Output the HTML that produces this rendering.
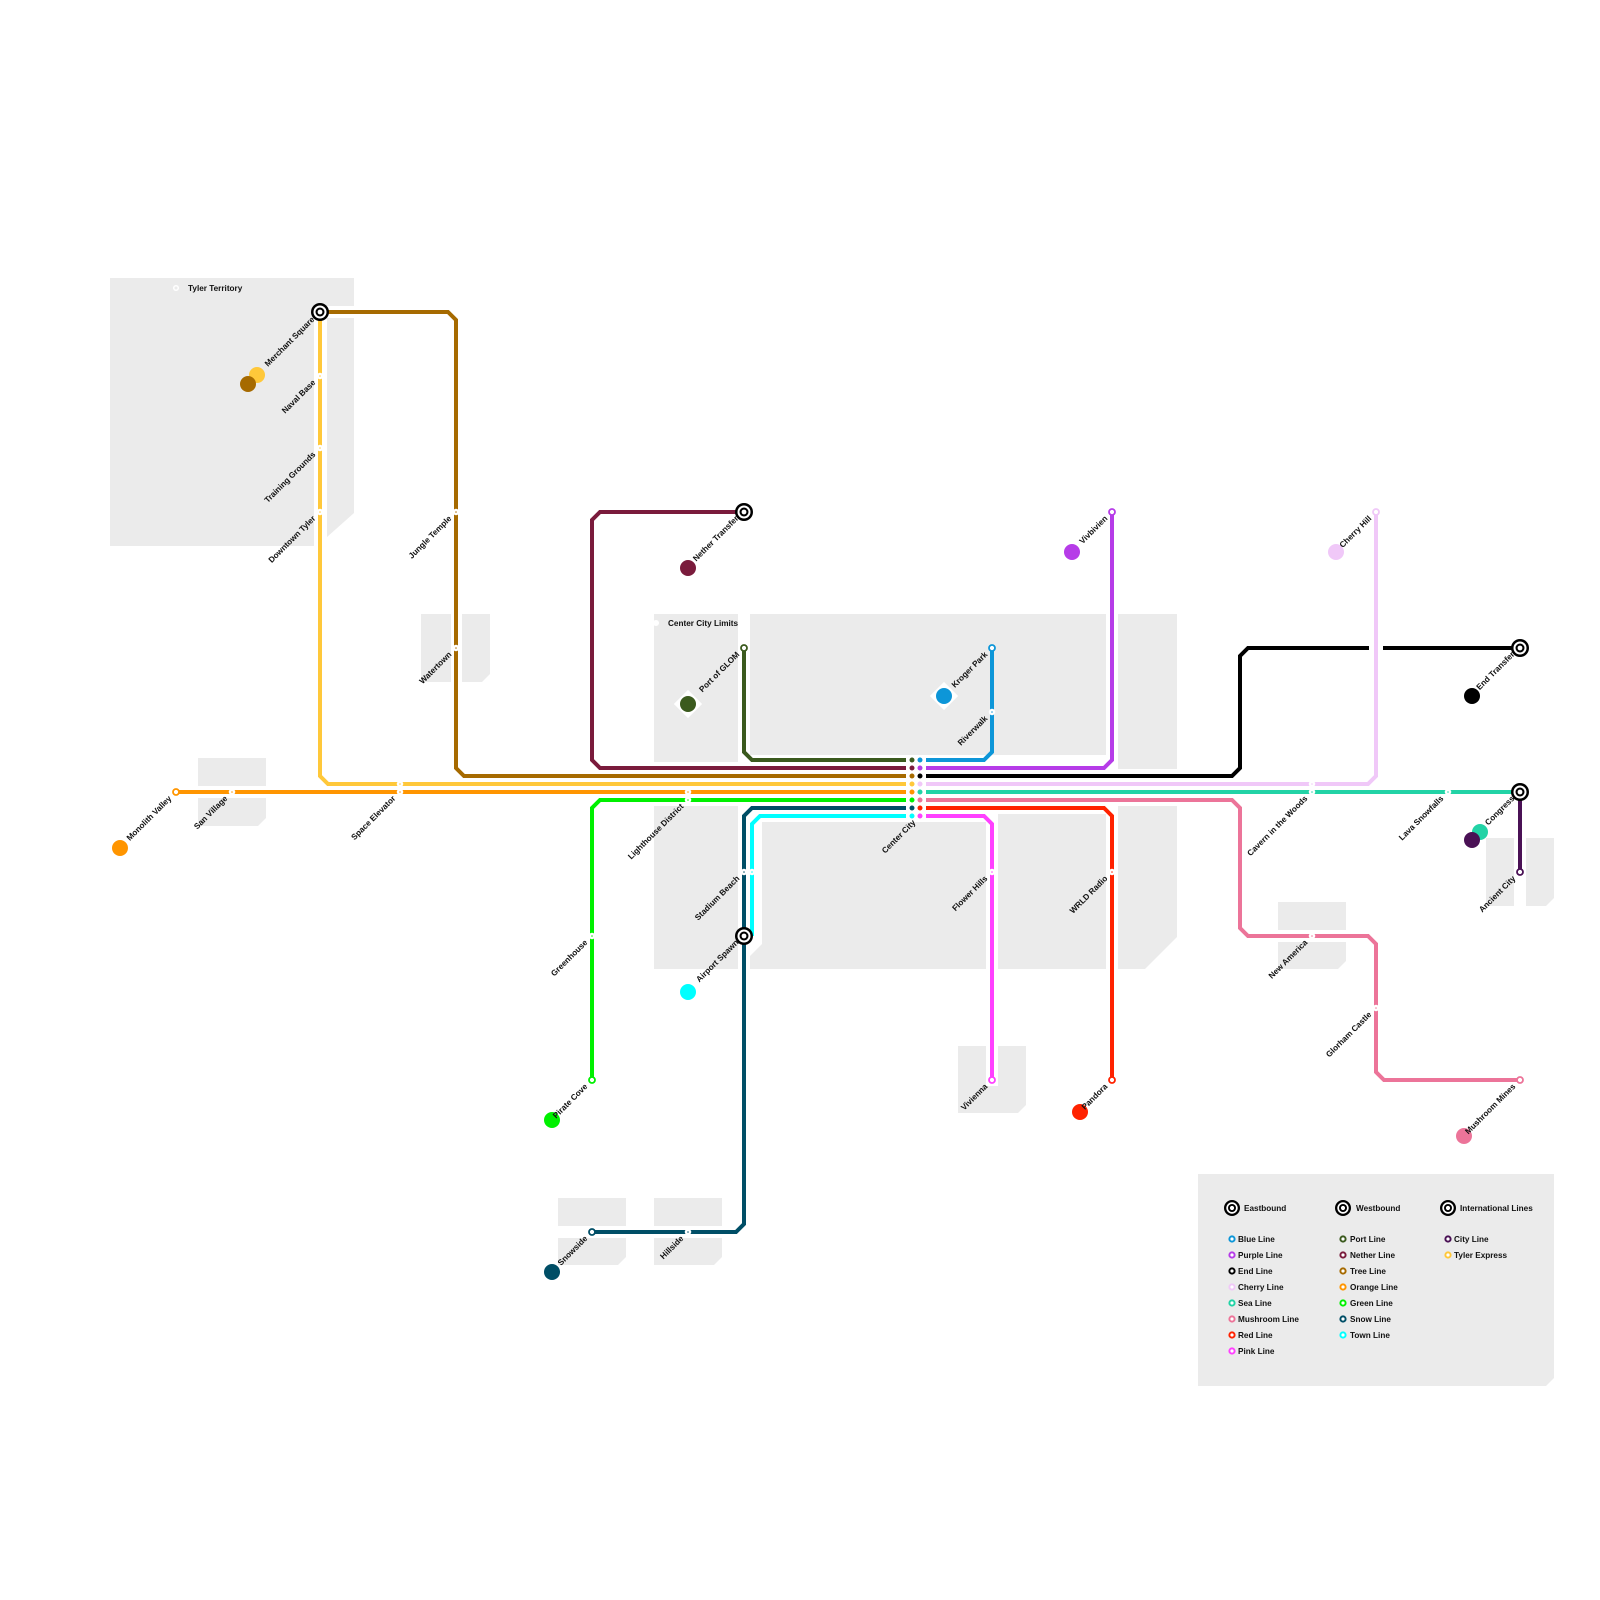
<!DOCTYPE html>
<html><head><meta charset="utf-8"><style>
html,body{margin:0;padding:0;background:#fff}
svg{display:block}
text{font-family:"Liberation Sans",Arial,sans-serif;font-weight:bold;font-size:8.2px;fill:#111}
</style></head><body>
<svg width="1600" height="1600" viewBox="0 0 1600 1600" xmlns="http://www.w3.org/2000/svg">
<g fill="#ebebeb">
<rect x="110" y="278" width="204" height="268"/>
<rect x="314" y="278" width="40" height="28"/>
<path d="M327 318H354V513L327 537Z"/>
<rect x="198" y="758" width="68" height="28"/>
<path d="M198 798H266V818L258 826H198Z"/>
<rect x="421" y="614" width="30" height="68"/>
<path d="M462 614H490V674L482 682H462Z"/>
<rect x="654" y="614" width="84" height="148"/>
<rect x="750" y="614" width="356" height="141"/>
<rect x="1118" y="614" width="59" height="155"/>
<rect x="654" y="806" width="84" height="163"/>
<path d="M762 822H986V969H750V956L762 944Z"/>
<rect x="998" y="814" width="108" height="155"/>
<path d="M1118 806H1177V937L1145 969H1118Z"/>
<rect x="958" y="1046" width="28" height="67"/>
<path d="M998 1046H1026V1105L1018 1113H998Z"/>
<rect x="958" y="1086" width="60" height="27"/>
<rect x="558" y="1198" width="68" height="28"/>
<path d="M558 1238H626V1257L618 1265H558Z"/>
<rect x="654" y="1198" width="68" height="28"/>
<path d="M654 1238H722V1257L714 1265H654Z"/>
<rect x="1278" y="902" width="68" height="28"/>
<path d="M1278 942H1346V961L1338 969H1278Z"/>
<rect x="1486" y="838" width="28" height="68"/>
<path d="M1526 838H1554V898L1546 906H1526Z"/>
<path d="M1198 1174H1554V1378L1546 1386H1198Z"/>
</g>

<g fill="none" stroke-width="4" stroke-linejoin="miter">
<path stroke="#A66A00" d="M320 312H448L456 320V768L464 776H906"/>
<path stroke="#FFC83A" d="M320 312V776L328 784H906"/>
<path stroke="#FF9500" d="M176 792H906"/>
<path stroke="#00F000" d="M906 800H600L592 808V1080"/>
<path stroke="#7A1B3C" d="M906 768H600L592 760V520L600 512H744"/>
<path stroke="#3B5A1E" d="M906 760H752L744 752V648"/>
<path stroke="#004E66" d="M906 808H752L744 816V1224L736 1232H592"/>
<path stroke="#00FFFF" d="M906 816H760L752 824V936"/>
<path stroke="#0D96D8" d="M926 760H984L992 752V648"/>
<path stroke="#B63CE8" d="M926 768H1104L1112 760V512"/>
<path stroke="#F0C8F8" d="M926 784H1368L1376 776V512"/>
<path stroke="#000" d="M926 776H1232L1240 768V656L1248 648H1369M1383 648H1520"/>
<path stroke="#22D3A6" d="M926 792H1520"/>
<path stroke="#EC7499" d="M926 800H1232L1240 808V928L1248 936H1368L1376 944V1072L1384 1080H1520"/>
<path stroke="#FF2200" d="M926 808H1104L1112 816V1080"/>
<path stroke="#FF40FF" d="M926 816H984L992 824V1080"/>
<path stroke="#4A1155" d="M1520 792V872"/>
</g>

<g>
<circle cx="912" cy="760" r="2.5" fill="#3B5A1E"/><circle cx="920" cy="760" r="2.5" fill="#0D96D8"/>
<circle cx="912" cy="768" r="2.5" fill="#7A1B3C"/><circle cx="920" cy="768" r="2.5" fill="#B63CE8"/>
<circle cx="912" cy="776" r="2.5" fill="#A66A00"/><circle cx="920" cy="776" r="2.5" fill="#000"/>
<circle cx="912" cy="784" r="2.5" fill="#FFC83A"/><circle cx="920" cy="784" r="2.5" fill="#F0C8F8"/>
<circle cx="912" cy="792" r="2.5" fill="#FF9500"/><circle cx="920" cy="792" r="2.5" fill="#22D3A6"/>
<circle cx="912" cy="800" r="2.5" fill="#00F000"/><circle cx="920" cy="800" r="2.5" fill="#EC7499"/>
<circle cx="912" cy="808" r="2.5" fill="#004E66"/><circle cx="920" cy="808" r="2.5" fill="#FF2200"/>
<circle cx="912" cy="816" r="2.5" fill="#00FFFF"/><circle cx="920" cy="816" r="2.5" fill="#FF40FF"/>
</g>

<g stroke="#fff" stroke-width="2.5">
<circle cx="320" cy="376" r="2" fill="#FFC83A"/>
<circle cx="320" cy="448" r="2" fill="#FFC83A"/>
<circle cx="320" cy="512" r="2" fill="#FFC83A"/>
<circle cx="456" cy="512" r="2" fill="#A66A00"/>
<circle cx="456" cy="648" r="2" fill="#A66A00"/>
<circle cx="232" cy="792" r="2" fill="#FF9500"/>
<circle cx="400" cy="784" r="2" fill="#FFC83A"/>
<circle cx="400" cy="792" r="2" fill="#FF9500"/>
<circle cx="688" cy="792" r="2" fill="#FF9500"/>
<circle cx="688" cy="800" r="2" fill="#00F000"/>
<circle cx="592" cy="936" r="2" fill="#00F000"/>
<circle cx="744" cy="872" r="2" fill="#004E66"/>
<circle cx="752" cy="872" r="2" fill="#00FFFF"/>
<circle cx="688" cy="1232" r="2" fill="#004E66"/>
<circle cx="992" cy="712" r="2" fill="#0D96D8"/>
<circle cx="992" cy="872" r="2" fill="#FF40FF"/>
<circle cx="1112" cy="872" r="2" fill="#FF2200"/>
<circle cx="1312" cy="784" r="2" fill="#F0C8F8"/>
<circle cx="1312" cy="792" r="2" fill="#22D3A6"/>
<circle cx="1448" cy="792" r="2" fill="#22D3A6"/>
<circle cx="1312" cy="936" r="2" fill="#EC7499"/>
<circle cx="1376" cy="1008" r="2" fill="#EC7499"/>
</g>

<g fill="#fff" stroke-width="1.8">
<circle cx="176" cy="792" r="3" stroke="#FF9500"/>
<circle cx="592" cy="1080" r="3" stroke="#00F000"/>
<circle cx="592" cy="1232" r="3" stroke="#004E66"/>
<circle cx="744" cy="648" r="3" stroke="#3B5A1E"/>
<circle cx="992" cy="648" r="3" stroke="#0D96D8"/>
<circle cx="1112" cy="512" r="3" stroke="#B63CE8"/>
<circle cx="1376" cy="512" r="3" stroke="#F0C8F8"/>
<circle cx="992" cy="1080" r="3" stroke="#FF40FF"/>
<circle cx="1112" cy="1080" r="3" stroke="#FF2200"/>
<circle cx="1520" cy="1080" r="3" stroke="#EC7499"/>
<circle cx="1520" cy="872" r="3" stroke="#4A1155"/>
</g>

<defs>
<g id="ix"><circle r="9" fill="#000"/><circle r="6.5" fill="#fff"/><circle r="4.5" fill="#000"/><circle r="2.4" fill="#fff"/></g>
<g id="ixs"><circle r="8" fill="#000"/><circle r="5.7" fill="#fff"/><circle r="4" fill="#000"/><circle r="2.1" fill="#fff"/></g>
</defs>
<use href="#ix" x="320" y="312"/>
<use href="#ix" x="744" y="512"/>
<use href="#ix" x="744" y="936"/>
<use href="#ix" x="1520" y="648"/>
<use href="#ix" x="1520" y="792"/>

<g>
<circle cx="257" cy="375" r="8" fill="#FFC83A"/>
<circle cx="248" cy="384" r="8" fill="#A66A00"/>
<circle cx="120" cy="848" r="8" fill="#FF9500"/>
<circle cx="688" cy="568" r="8" fill="#7A1B3C"/>
<rect x="678" y="694" width="20" height="20" fill="#fff" transform="rotate(45 688 704)"/>
<circle cx="688" cy="704" r="8" fill="#3B5A1E"/>
<rect x="934" y="686" width="20" height="20" fill="#fff" transform="rotate(45 944 696)"/>
<circle cx="944" cy="696" r="8" fill="#0D96D8"/>
<circle cx="1072" cy="552" r="8" fill="#B63CE8"/>
<circle cx="1336" cy="552" r="8" fill="#F0C8F8"/>
<circle cx="1472" cy="696" r="8" fill="#000"/>
<circle cx="1480" cy="832" r="8" fill="#22D3A6"/>
<circle cx="1472" cy="840" r="8" fill="#4A1155"/>
<circle cx="688" cy="992" r="8" fill="#00FFFF"/>
<circle cx="552" cy="1120" r="8" fill="#00F000"/>
<circle cx="552" cy="1272" r="8" fill="#004E66"/>
<circle cx="1080" cy="1112" r="8" fill="#FF2200"/>
<circle cx="1464" cy="1136" r="8" fill="#EC7499"/>
</g>

<circle cx="176" cy="288" r="3" fill="#fff"/>
<circle cx="176" cy="288" r="1.5" fill="#ebebeb"/>
<text x="188" y="291">Tyler Territory</text>
<circle cx="656" cy="623" r="3" fill="#fff"/>
<text x="668" y="626">Center City Limits</text>

<g text-anchor="end" transform="translate(2 -2)">
<text transform="translate(313 322) rotate(-45)">Merchant Square</text>
<text transform="translate(314 385) rotate(-45)">Naval Base</text>
<text transform="translate(314 457) rotate(-45)">Training Grounds</text>
<text transform="translate(314 521) rotate(-45)">Downtown Tyler</text>
<text transform="translate(450 521) rotate(-45)">Jungle Temple</text>
<text transform="translate(450 657) rotate(-45)">Watertown</text>
<text transform="translate(170 801) rotate(-45)">Monolith Valley</text>
<text transform="translate(226 801) rotate(-45)">San Village</text>
<text transform="translate(394 801) rotate(-45)">Space Elevator</text>
<text transform="translate(682 809) rotate(-45)">Lighthouse District</text>
<text transform="translate(914 825) rotate(-45)">Center City</text>
<text transform="translate(738 657) rotate(-45)">Port of GLOM</text>
<text transform="translate(986 657) rotate(-45)">Kroger Park</text>
<text transform="translate(986 721) rotate(-45)">Riverwalk</text>
<text transform="translate(737 521) rotate(-45)">Nether Transfer</text>
<text transform="translate(1106 521) rotate(-45)">Vivbivien</text>
<text transform="translate(1370 521) rotate(-45)">Cherry Hill</text>
<text transform="translate(1513 657) rotate(-45)">End Transfer</text>
<text transform="translate(1306 801) rotate(-45)">Cavern in the Woods</text>
<text transform="translate(1442 801) rotate(-45)">Lava Snowfalls</text>
<text transform="translate(1513 801) rotate(-45)">Congress</text>
<text transform="translate(1514 881) rotate(-45)">Ancient City</text>
<text transform="translate(738 881) rotate(-45)">Stadium Beach</text>
<text transform="translate(737 945) rotate(-45)">Airport Spawn</text>
<text transform="translate(586 945) rotate(-45)">Greenhouse</text>
<text transform="translate(586 1089) rotate(-45)">Pirate Cove</text>
<text transform="translate(586 1241) rotate(-45)">Snowside</text>
<text transform="translate(682 1241) rotate(-45)">Hillside</text>
<text transform="translate(986 881) rotate(-45)">Flower Hills</text>
<text transform="translate(1106 881) rotate(-45)">WRLD Radio</text>
<text transform="translate(986 1089) rotate(-45)">Vivienna</text>
<text transform="translate(1106 1089) rotate(-45)">Pandora</text>
<text transform="translate(1306 945) rotate(-45)">New America</text>
<text transform="translate(1370 1017) rotate(-45)">Glorham Castle</text>
<text transform="translate(1514 1089) rotate(-45)">Mushroom Mines</text>
</g>

<use href="#ixs" x="1232" y="1208"/><text x="1244" y="1211">Eastbound</text>
<use href="#ixs" x="1343" y="1208"/><text x="1356" y="1211">Westbound</text>
<use href="#ixs" x="1448" y="1208"/><text x="1460" y="1211">International Lines</text>
<g fill="#fff" stroke-width="2">
<circle cx="1232" cy="1239" r="2.6" stroke="#0D96D8"/>
<circle cx="1232" cy="1255" r="2.6" stroke="#B63CE8"/>
<circle cx="1232" cy="1271" r="2.6" stroke="#000"/>
<circle cx="1232" cy="1287" r="2.6" stroke="#F0C8F8"/>
<circle cx="1232" cy="1303" r="2.6" stroke="#22D3A6"/>
<circle cx="1232" cy="1319" r="2.6" stroke="#EC7499"/>
<circle cx="1232" cy="1335" r="2.6" stroke="#FF2200"/>
<circle cx="1232" cy="1351" r="2.6" stroke="#FF40FF"/>
<circle cx="1343" cy="1239" r="2.6" stroke="#3B5A1E"/>
<circle cx="1343" cy="1255" r="2.6" stroke="#7A1B3C"/>
<circle cx="1343" cy="1271" r="2.6" stroke="#A66A00"/>
<circle cx="1343" cy="1287" r="2.6" stroke="#FF9500"/>
<circle cx="1343" cy="1303" r="2.6" stroke="#00F000"/>
<circle cx="1343" cy="1319" r="2.6" stroke="#004E66"/>
<circle cx="1343" cy="1335" r="2.6" stroke="#00FFFF"/>
<circle cx="1448" cy="1239" r="2.6" stroke="#4A1155"/>
<circle cx="1448" cy="1255" r="2.6" stroke="#FFC83A"/>
</g>
<g>
<text x="1238" y="1242">Blue Line</text>
<text x="1238" y="1258">Purple Line</text>
<text x="1238" y="1274">End Line</text>
<text x="1238" y="1290">Cherry Line</text>
<text x="1238" y="1306">Sea Line</text>
<text x="1238" y="1322">Mushroom Line</text>
<text x="1238" y="1338">Red Line</text>
<text x="1238" y="1354">Pink Line</text>
<text x="1350" y="1242">Port Line</text>
<text x="1350" y="1258">Nether Line</text>
<text x="1350" y="1274">Tree Line</text>
<text x="1350" y="1290">Orange Line</text>
<text x="1350" y="1306">Green Line</text>
<text x="1350" y="1322">Snow Line</text>
<text x="1350" y="1338">Town Line</text>
<text x="1454" y="1242">City Line</text>
<text x="1454" y="1258">Tyler Express</text>
</g>
</svg>
</body></html>
